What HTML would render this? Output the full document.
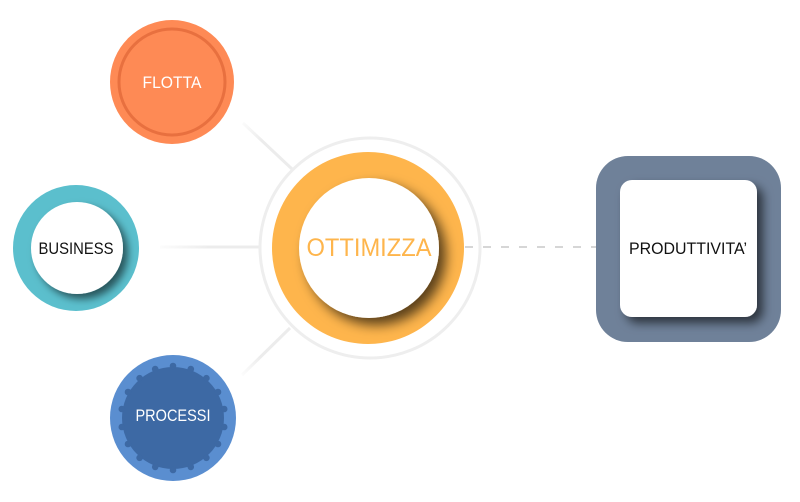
<!DOCTYPE html>
<html><head><meta charset="utf-8"><style>
html,body{margin:0;padding:0;background:#fff;}
svg{display:block;}
text{font-family:"Liberation Sans",sans-serif;}
</style></head><body>
<svg width="800" height="502" viewBox="0 0 800 502" xmlns="http://www.w3.org/2000/svg">
<defs>
<filter id="sh" x="-30%" y="-30%" width="170%" height="170%">
<feDropShadow dx="6" dy="6" stdDeviation="5" flood-color="#000" flood-opacity="0.6"/>
</filter>
<filter id="sho" x="-30%" y="-30%" width="170%" height="170%">
<feDropShadow dx="7" dy="7" stdDeviation="6" flood-color="#000" flood-opacity="0.65"/>
</filter>
<filter id="shs" x="-30%" y="-30%" width="170%" height="170%">
<feDropShadow dx="5" dy="5" stdDeviation="4" flood-color="#000" flood-opacity="0.55"/>
</filter>
<clipPath id="cO"><circle cx="368" cy="248" r="96"/></clipPath>
<clipPath id="cB"><circle cx="76" cy="248" r="63"/></clipPath>
<clipPath id="cP"><rect x="596" y="156" width="185" height="186" rx="32"/></clipPath>
<linearGradient id="g1" x1="243" y1="123" x2="290" y2="168" gradientUnits="userSpaceOnUse">
<stop offset="0" stop-color="#efefef" stop-opacity="0.3"/><stop offset="0.4" stop-color="#ececec"/><stop offset="1" stop-color="#ececec"/></linearGradient>
<linearGradient id="g2" x1="160" y1="247" x2="258" y2="247" gradientUnits="userSpaceOnUse">
<stop offset="0" stop-color="#efefef" stop-opacity="0.2"/><stop offset="0.5" stop-color="#ececec"/><stop offset="1" stop-color="#ececec"/></linearGradient>
<linearGradient id="g3" x1="242" y1="375" x2="288" y2="329" gradientUnits="userSpaceOnUse">
<stop offset="0" stop-color="#efefef" stop-opacity="0.2"/><stop offset="0.4" stop-color="#ececec"/><stop offset="1" stop-color="#ececec"/></linearGradient>
</defs>

<!-- connectors -->
<line x1="243" y1="123" x2="292" y2="169" stroke="url(#g1)" stroke-width="3"/>
<line x1="160" y1="247" x2="260" y2="247" stroke="url(#g2)" stroke-width="3"/>
<line x1="242" y1="375" x2="290" y2="328" stroke="url(#g3)" stroke-width="3"/>
<line x1="465" y1="247" x2="596" y2="247" stroke="#c9c9c9" stroke-width="1.6" stroke-dasharray="8 10"/>

<!-- central -->
<circle cx="370" cy="248" r="110" fill="none" stroke="#eeeeee" stroke-width="3"/>
<circle cx="368" cy="248" r="96" fill="#feb54c"/>
<g clip-path="url(#cO)">
<circle cx="369" cy="248" r="70" fill="#fff" filter="url(#sho)"/>
</g>
<text x="369" y="256" font-size="25" fill="#feb54c" text-anchor="middle" textLength="125" lengthAdjust="spacingAndGlyphs">OTTIMIZZA</text>

<!-- FLOTTA -->
<circle cx="172" cy="82" r="62" fill="#fe8a55"/>
<circle cx="172" cy="82" r="53" fill="none" stroke="#e8703f" stroke-width="3"/>
<text x="172" y="88" font-size="17" fill="#fff" text-anchor="middle" textLength="59" lengthAdjust="spacingAndGlyphs">FLOTTA</text>

<!-- BUSINESS -->
<circle cx="76" cy="248" r="63" fill="#5bbfcd"/>
<g clip-path="url(#cB)">
<circle cx="77" cy="248" r="46" fill="#fff" filter="url(#shs)"/>
</g>
<text x="76" y="254" font-size="17" fill="#111" text-anchor="middle" textLength="75" lengthAdjust="spacingAndGlyphs">BUSINESS</text>

<!-- PROCESSI -->
<circle cx="173" cy="418" r="63" fill="#5a8ed0"/>
<g fill="#3d69a4">
<circle cx="173" cy="418" r="51"/>
<circle cx="173" cy="366" r="3.3"/>
<circle cx="190.8" cy="369.1" r="3.3"/>
<circle cx="206.4" cy="378.2" r="3.3"/>
<circle cx="218" cy="392" r="3.3"/>
<circle cx="224.2" cy="409" r="3.3"/>
<circle cx="224.2" cy="427" r="3.3"/>
<circle cx="218" cy="444" r="3.3"/>
<circle cx="206.4" cy="457.8" r="3.3"/>
<circle cx="190.8" cy="466.9" r="3.3"/>
<circle cx="173" cy="470" r="3.3"/>
<circle cx="155.2" cy="466.9" r="3.3"/>
<circle cx="139.6" cy="457.8" r="3.3"/>
<circle cx="128" cy="444" r="3.3"/>
<circle cx="121.8" cy="427" r="3.3"/>
<circle cx="121.8" cy="409" r="3.3"/>
<circle cx="128" cy="392" r="3.3"/>
<circle cx="139.6" cy="378.2" r="3.3"/>
<circle cx="155.2" cy="369.1" r="3.3"/>
</g>
<text x="173" y="421" font-size="17" fill="#fff" text-anchor="middle" textLength="75" lengthAdjust="spacingAndGlyphs">PROCESSI</text>

<!-- PRODUTTIVITA' -->
<rect x="596" y="156" width="185" height="186" rx="32" fill="#6f8199"/>
<g clip-path="url(#cP)">
<rect x="620" y="180" width="137" height="137" rx="12" fill="#fff" filter="url(#sh)"/>
</g>
<text x="688" y="254" font-size="17" fill="#111" text-anchor="middle" textLength="118" lengthAdjust="spacingAndGlyphs">PRODUTTIVITA’</text>
</svg>
</body></html>
